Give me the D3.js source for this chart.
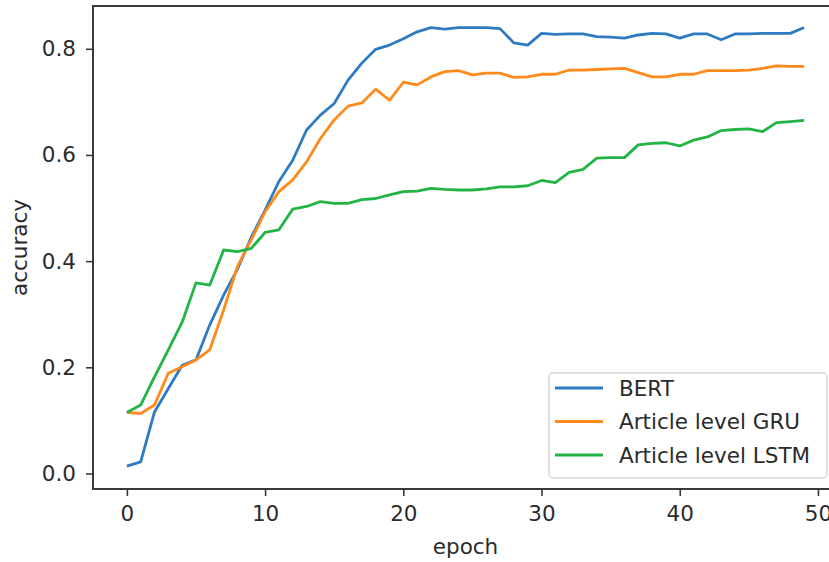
<!DOCTYPE html>
<html>
<head>
<meta charset="utf-8">
<script src="https://cdn.jsdelivr.net/npm/d3@7"></script>
<style>
  body { margin: 0; background: #fff; }
  svg text { font-family: "DejaVu Sans", sans-serif; fill: #2b2b2b; }
</style>
</head>
<body>
<svg id="chart"></svg>
<script>
// accuracy per epoch
const epochs = d3.range(50);
const bert = [0.014,0.022,0.116,0.160,0.204,0.214,0.280,0.336,0.385,0.445,
  0.496,0.550,0.590,0.647,0.675,0.697,0.741,0.773,0.799,0.807,
  0.819,0.832,0.840,0.837,0.840,0.840,0.840,0.838,0.811,0.807,
  0.829,0.827,0.828,0.828,0.823,0.822,0.820,0.826,0.829,0.828,
  0.820,0.828,0.828,0.817,0.828,0.828,0.829,0.829,0.829,0.840];
const gru = [0.115,0.113,0.129,0.189,0.201,0.214,0.233,0.308,0.390,0.440,
  0.493,0.531,0.553,0.587,0.631,0.666,0.692,0.698,0.724,0.703,
  0.737,0.732,0.747,0.757,0.759,0.751,0.754,0.754,0.746,0.747,
  0.752,0.752,0.760,0.760,0.761,0.762,0.763,0.755,0.747,0.747,
  0.752,0.752,0.759,0.759,0.759,0.760,0.763,0.768,0.767,0.767];
const lstm = [0.115,0.129,0.182,0.233,0.285,0.359,0.355,0.421,0.418,0.424,
  0.454,0.459,0.498,0.503,0.512,0.509,0.509,0.516,0.518,0.525,
  0.531,0.532,0.537,0.535,0.534,0.534,0.536,0.540,0.540,0.542,
  0.552,0.548,0.567,0.573,0.594,0.595,0.595,0.619,0.622,0.623,
  0.617,0.628,0.634,0.646,0.648,0.649,0.644,0.661,0.663,0.665];
const seriesNames = ['BERT', 'Article level GRU', 'Article level LSTM'];
const seriesColors = ['#2f7bc1', '#ff8a1c', '#22b444'];
const xTicks = [0, 10, 20, 30, 40, 50];
const yTicks = [0.0, 0.2, 0.4, 0.6, 0.8];

const W = 829, H = 562;
const plot = {left: 93, top: 6, right: 838, bottom: 489};
const fontSize = 21.5;

const svg = d3.select('#chart').attr('width', W).attr('height', H);

const x = d3.scaleLinear().domain([-2.45, 51.45]).range([plot.left, plot.right]);
const y = d3.scaleLinear().domain([-0.0292, 0.8806]).range([plot.bottom, plot.top]);

// axes
const xAxis = d3.axisBottom(x).tickValues(xTicks).tickSize(7).tickPadding(10)
  .tickFormat(d3.format('d'));
const yAxis = d3.axisLeft(y).tickValues(yTicks).tickSize(7).tickPadding(10)
  .tickFormat(d3.format('.1f'));

const gx = svg.append('g').attr('transform', `translate(0,${plot.bottom})`).call(xAxis);
const gy = svg.append('g').attr('transform', `translate(${plot.left},0)`).call(yAxis);
[gx, gy].forEach(g => {
  g.select('.domain').remove();
  g.selectAll('.tick line').attr('stroke', '#3a3a3a').attr('stroke-width', 1.6);
  g.selectAll('.tick text').attr('font-size', fontSize).attr('fill', '#2b2b2b')
    .style('font-family', '"DejaVu Sans", sans-serif');
});

// lines
const line = d3.line().x((d, i) => x(epochs[i])).y(d => y(d));
[bert, gru, lstm].forEach((s, k) => {
  svg.append('path')
    .datum(s)
    .attr('fill', 'none')
    .attr('stroke', seriesColors[k])
    .attr('stroke-width', 2.8)
    .attr('stroke-linejoin', 'round')
    .attr('d', line);
});

// frame
svg.append('rect')
  .attr('x', plot.left).attr('y', plot.top)
  .attr('width', plot.right - plot.left).attr('height', plot.bottom - plot.top)
  .attr('fill', 'none').attr('stroke', '#3a3a3a').attr('stroke-width', 2);

// axis titles
svg.append('text')
  .attr('x', (plot.left + plot.right) / 2).attr('y', 554)
  .attr('text-anchor', 'middle').attr('font-size', fontSize)
  .text('epoch');
svg.append('text')
  .attr('transform', `translate(27,${(plot.top + plot.bottom) / 2}) rotate(-90)`)
  .attr('text-anchor', 'middle').attr('font-size', fontSize)
  .text('accuracy');

// legend
const legend = svg.append('g');
legend.append('rect')
  .attr('x', 549).attr('y', 373).attr('width', 278).attr('height', 105)
  .attr('rx', 4).attr('fill', 'rgba(255,255,255,0.85)')
  .attr('stroke', '#d6d6d6').attr('stroke-width', 1.5);
seriesNames.forEach((name, k) => {
  const ly = 388 + k * 33.5;
  legend.append('line')
    .attr('x1', 555).attr('x2', 603).attr('y1', ly).attr('y2', ly)
    .attr('stroke', seriesColors[k]).attr('stroke-width', 2.8);
  legend.append('text')
    .attr('x', 619).attr('y', ly).attr('dy', '0.35em')
    .attr('font-size', fontSize)
    .text(name);
});
</script>
</body>
</html>
